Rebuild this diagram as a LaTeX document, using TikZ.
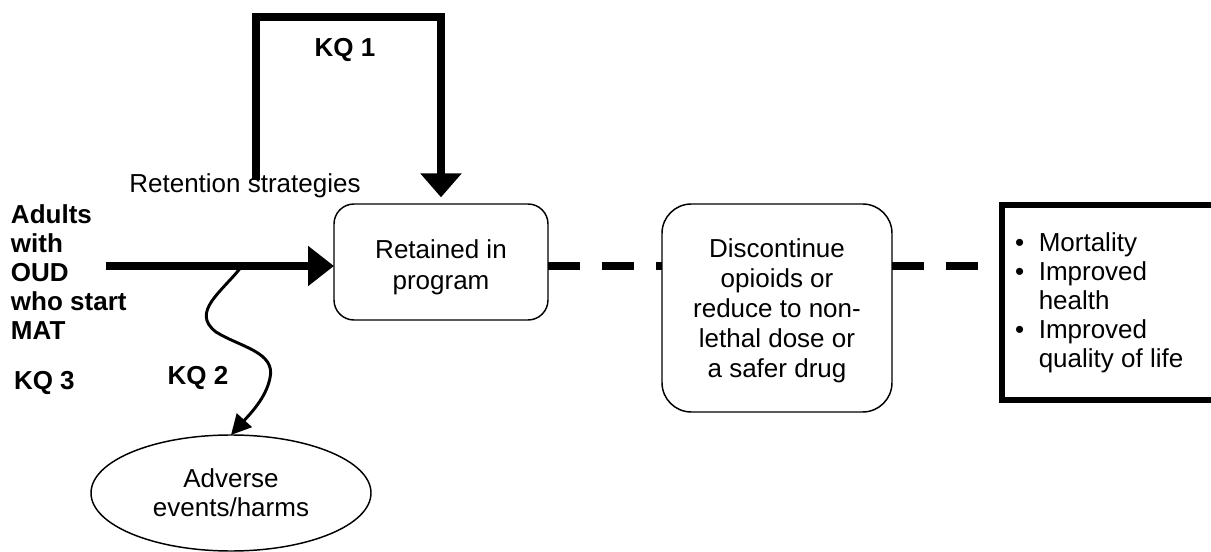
\documentclass[tikz,border=0pt]{standalone}
\usepackage{fontspec}
\setmainfont{Liberation Sans}
\usetikzlibrary{arrows.meta,shapes.geometric}
\newcommand{\lowered}[2]{\raisebox{-#1}[\height][\depth]{#2}}
\begin{document}
\begin{tikzpicture}[x=0.75pt,y=-0.75pt,
  every node/.style={font=\fontsize{19.5}{21.75}\selectfont, inner sep=0pt, outer sep=0pt},
  rbox/.style={draw, line width=1.1pt, align=center},
  lbl/.style={font=\fontsize{19.5}{21.75}\selectfont\bfseries},
  bigarrow/.style={line width=6pt, -{Triangle[length=19.5pt,width=29pt]}},
  kqarrow/.style={line width=5.5pt, -{Triangle[length=18pt,width=30pt]}},
  dashline/.style={line width=6pt, dash pattern=on 24pt off 16.5pt},
  wavyarrow/.style={line width=2.2pt, -{Triangle[length=15pt,width=15pt]}}
]
\useasboundingbox (0,0) rectangle (1211,552);

% nodes
\node[rbox, rounded corners=15pt, minimum width=160.5pt, minimum height=87pt] (ret) at (441,262)
  {\lowered{4.5pt}{\fontsize{19.5}{23}\selectfont\begin{tabular}{@{}c@{}}Retained in\\program\end{tabular}}};
\node[rbox, rounded corners=22pt, minimum width=172.5pt, minimum height=156pt] (disc) at (777,308)
  {\lowered{2.5pt}{\fontsize{19.5}{22.5}\selectfont\begin{tabular}{@{}c@{}}Discontinue\\opioids or\\reduce to non-\\lethal dose or\\a safer drug\end{tabular}}};
\node[draw, line width=4.5pt, minimum width=167.25pt, minimum height=146.25pt] (out) at (1113.5,302.5) {};
\node[anchor=west] (outtext) at (1015,303.5) {\begin{tabular}{@{}c@{\hspace{11pt}}l@{}}
\textbullet & Mortality\\
\textbullet & Improved\\
 & health\\
\textbullet & Improved\\
 & quality of life
\end{tabular}};
\node[draw, ellipse, line width=1.1pt, minimum width=210pt, minimum height=87pt, align=center] (adv) at (231,493) {Adverse\\events/harms};

\node[lbl, anchor=west, align=left] (adults) at (11,272) {Adults\\with\\OUD\\who start\\MAT};
\node[lbl] (kq1) at (345,50) {KQ 1};
\node[lbl] (kq2) at (198,378) {KQ 2};
\node[lbl, anchor=west] (kq3) at (14,383) {KQ 3};

% coordinates
\coordinate (start) at (106,266);
\coordinate (k1) at (256,180);
\coordinate (k1top) at (256,17);
\coordinate (w0) at (242,266);

% KQ1 bracket
\draw[kqarrow, shorten >=5pt] (k1) -- (k1top) -| (ret.north);
\node (retstrat) at (245,186) {Retention strategies};

% main arrow
\draw[bigarrow] (start) -- (ret.west |- start);

% dashed links
\draw[dashline] (ret.east |- start) -- (disc.west |- start);
\draw[dashline] (disc.east |- start) -- (out.west |- start);

% KQ2 wavy arrow
\draw[wavyarrow] (w0) .. controls (222,292) and (190,312) .. (216,332)
  .. controls (240,347) and (276,352) .. (270,378)
  .. controls (266,398) and (250,414) .. (adv.north);
\end{tikzpicture}
\end{document}
